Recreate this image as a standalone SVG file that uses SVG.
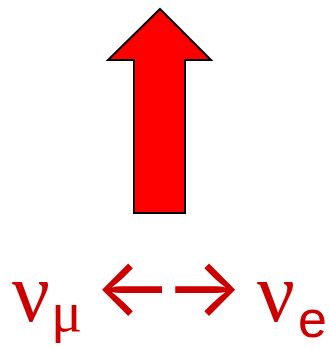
<svg xmlns="http://www.w3.org/2000/svg" width="329" height="347" viewBox="0 0 329 347">
<style>
.lbl{fill:#cc0000;font-family:"Liberation Serif","DejaVu Serif",serif}
.sub{fill:#cc0000;font-family:"Liberation Sans",Arial,sans-serif}
.arr{fill:#cc0000;font-family:Inter,"DejaVu Sans",sans-serif}
</style>
<rect width="329" height="347" fill="#fff"/>
<g id="arrow-up">
<polygon points="160,9 211,60 185,60 185,213 134,213 134,60 108,60" fill="#ff0000" stroke="#000" stroke-width="2" stroke-linejoin="miter"/>
</g>
<g id="label">
<text class="lbl" x="12" y="321" font-size="84">ν</text>
<text class="lbl" x="51" y="331" font-size="58">μ</text>
<text class="arr" x="94" y="316" font-size="82">←</text>
<text class="arr" x="165" y="316" font-size="82">→</text>
<text class="lbl" x="257" y="321" font-size="84">ν</text>
<text class="sub" x="298" y="337" font-size="52">e</text>
</g>
</svg>
